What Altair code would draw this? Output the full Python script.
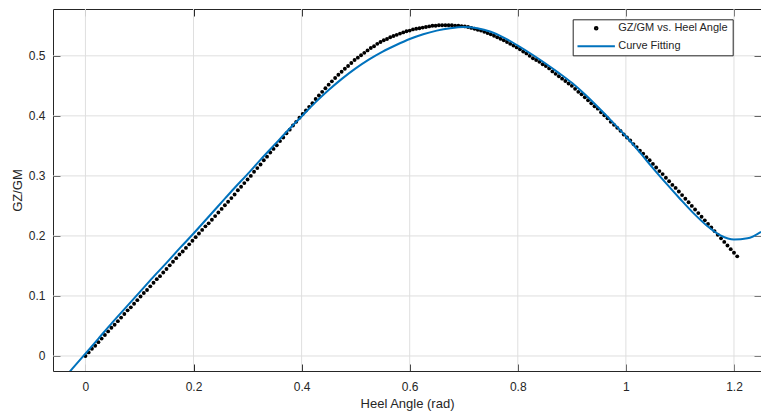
import altair as alt
import pandas as pd

# ---- data ----
SERIES = ["GZ/GM vs. Heel Angle", "Curve Fitting"]

# measured points: heel angle sampled every HEEL_STEP rad from 0
HEEL_STEP = 0.006
GZ_DOTS = [
    0.000, 0.006, 0.012, 0.017, 0.023, 0.029, 0.035, 0.041, 0.047, 0.052,
    0.058, 0.064, 0.070, 0.076, 0.081, 0.087, 0.093, 0.099, 0.105, 0.110,
    0.116, 0.122, 0.128, 0.133, 0.139, 0.145, 0.151, 0.157, 0.163, 0.169,
    0.174, 0.180, 0.186, 0.192, 0.198, 0.204, 0.210, 0.216, 0.221, 0.227,
    0.233, 0.239, 0.245, 0.251, 0.257, 0.263, 0.269, 0.276, 0.282, 0.288,
    0.294, 0.300, 0.307, 0.313, 0.319, 0.326, 0.332, 0.339, 0.345, 0.351,
    0.358, 0.364, 0.371, 0.377, 0.384, 0.390, 0.397, 0.403, 0.409, 0.415,
    0.421, 0.428, 0.434, 0.440, 0.446, 0.452, 0.4575, 0.463, 0.4685, 0.4735,
    0.4785, 0.483, 0.488, 0.493, 0.497, 0.501, 0.505, 0.509, 0.513, 0.516,
    0.520, 0.523, 0.526, 0.528, 0.531, 0.533, 0.535, 0.537, 0.539, 0.541,
    0.542, 0.544, 0.545, 0.546, 0.547, 0.548, 0.549, 0.550, 0.550, 0.551,
    0.551, 0.551, 0.551, 0.551, 0.550, 0.550, 0.5495, 0.549, 0.548, 0.5465,
    0.545, 0.5435, 0.542, 0.540, 0.538, 0.536, 0.5335, 0.531, 0.5285, 0.526,
    0.523, 0.520, 0.517, 0.514, 0.511, 0.507, 0.504, 0.500, 0.496, 0.493,
    0.490, 0.486, 0.483, 0.479, 0.474, 0.470, 0.466, 0.462, 0.458, 0.454,
    0.450, 0.445, 0.440, 0.436, 0.431, 0.426, 0.421, 0.416, 0.412, 0.406,
    0.401, 0.396, 0.390, 0.385, 0.380, 0.375, 0.369, 0.364, 0.359, 0.353,
    0.348, 0.342, 0.337, 0.331, 0.326, 0.320, 0.314, 0.308, 0.303, 0.297,
    0.291, 0.285, 0.280, 0.274, 0.268, 0.262, 0.256, 0.250, 0.244, 0.238,
    0.232, 0.226, 0.220, 0.214, 0.208, 0.202, 0.196, 0.190, 0.184, 0.178,
    0.172, 0.166,
]

# fitted curve, read every FIT_STEP rad starting at FIT_START
FIT_START = -0.075
FIT_STEP = 0.025
FIT_Y = [
    -0.074, -0.048, -0.022, 0.004, 0.030, 0.056, 0.081, 0.106, 0.131, 0.155,
    0.180, 0.204, 0.229, 0.254, 0.279, 0.303, 0.328, 0.352, 0.376, 0.399,
    0.422, 0.443, 0.462, 0.479, 0.494, 0.507, 0.518, 0.528, 0.536, 0.542,
    0.546, 0.548, 0.546, 0.540, 0.530, 0.517, 0.503, 0.488, 0.472, 0.455,
    0.435, 0.413, 0.390, 0.366, 0.340, 0.313, 0.287, 0.262, 0.238, 0.217,
    0.201, 0.194, 0.196, 0.207,
]

X_TICKS = [0, 0.2, 0.4, 0.6, 0.8, 1.0, 1.2]
Y_TICKS = [0, 0.1, 0.2, 0.3, 0.4, 0.5]
X_DOMAIN = [-0.06, 1.25]
Y_DOMAIN = [-0.025, 0.578]

dots_df = pd.DataFrame({
    "heel": [round(i * HEEL_STEP, 4) for i in range(len(GZ_DOTS))],
    "gz": GZ_DOTS,
})
fit_df = pd.DataFrame({
    "heel": [round(FIT_START + i * FIT_STEP, 4) for i in range(len(FIT_Y))],
    "gz": FIT_Y,
})

FONT = "Liberation Sans"
TXT = "#262626"
AX = "#262626"
BLUE = "#0072BD"

xs = alt.Scale(domain=X_DOMAIN, nice=False, zero=False)
ys = alt.Scale(domain=Y_DOMAIN, nice=False, zero=False)

axis_common = dict(
    domain=False, grid=False, offset=-7, tickSize=7, tickColor=AX, tickWidth=1,
    labelFont=FONT, labelFontSize=12, labelColor=TXT,
    titleFont=FONT, titleFontSize=13, titleColor=TXT, titleFontWeight="normal",
    format="~g",
)

xgrid = alt.Chart(pd.DataFrame({"t": X_TICKS})).mark_rule(
    color="#dfdfdf", strokeWidth=1
).encode(
    x=alt.X("t:Q", scale=xs, axis=alt.Axis(
        orient="bottom", values=X_TICKS, title="Heel Angle (rad)",
        labelPadding=10, titlePadding=5, **axis_common))
)

ygrid = alt.Chart(pd.DataFrame({"t": Y_TICKS})).mark_rule(
    color="#dfdfdf", strokeWidth=1
).encode(
    y=alt.Y("t:Q", scale=ys, axis=alt.Axis(
        orient="left", values=Y_TICKS, title="GZ/GM",
        labelPadding=8, titlePadding=4, **axis_common))
)

dots = alt.Chart(dots_df).mark_circle(
    color="#000000", size=15, opacity=1
).encode(
    x=alt.X("heel:Q", scale=xs, axis=alt.Axis(
        orient="top", values=X_TICKS, labels=False, title=None, **axis_common)),
    y=alt.Y("gz:Q", scale=ys, axis=alt.Axis(
        orient="right", values=Y_TICKS, labels=False, title=None, **axis_common)),
)

line = alt.Chart(fit_df).mark_line(
    color=BLUE, strokeWidth=2, clip=True, interpolate="monotone"
).encode(
    x=alt.X("heel:Q", scale=xs, axis=None),
    y=alt.Y("gz:Q", scale=ys, axis=None),
)

leg = alt.Legend(
    orient="none", legendX=519.7, legendY=10.3, title=None,
    fillColor="#ffffff", strokeColor="#262626", padding=3.5, rowPadding=6,
    clipHeight=11, labelOffset=2, labelFont=FONT, labelFontSize=11,
    labelColor=TXT, symbolStrokeWidth=2, cornerRadius=0,
)

legend_layer = alt.Chart(pd.DataFrame({"series": SERIES})).transform_filter(
    "false"
).mark_point(filled=False, strokeWidth=2, opacity=1).encode(
    color=alt.Color("series:N", scale=alt.Scale(domain=SERIES, range=["#000000", BLUE]), legend=leg),
    shape=alt.Shape("series:N", scale=alt.Scale(domain=SERIES, range=["circle", "stroke"]), legend=leg),
    size=alt.Size("series:N", scale=alt.Scale(type="ordinal", domain=SERIES, range=[7, 1400]), legend=leg),
)

chart = alt.layer(xgrid, ygrid, dots, line, legend_layer).resolve_axis(
    x="independent", y="independent"
).properties(
    width=708, height=362,
    padding={"left": 53, "top": 9, "right": 0, "bottom": 46},
    autosize=alt.AutoSizeParams(type="none"),
    background="#ffffff",
).configure_view(stroke=AX, strokeWidth=1)

chart.save("out.html", embed_options={"renderer": "svg", "actions": False})
